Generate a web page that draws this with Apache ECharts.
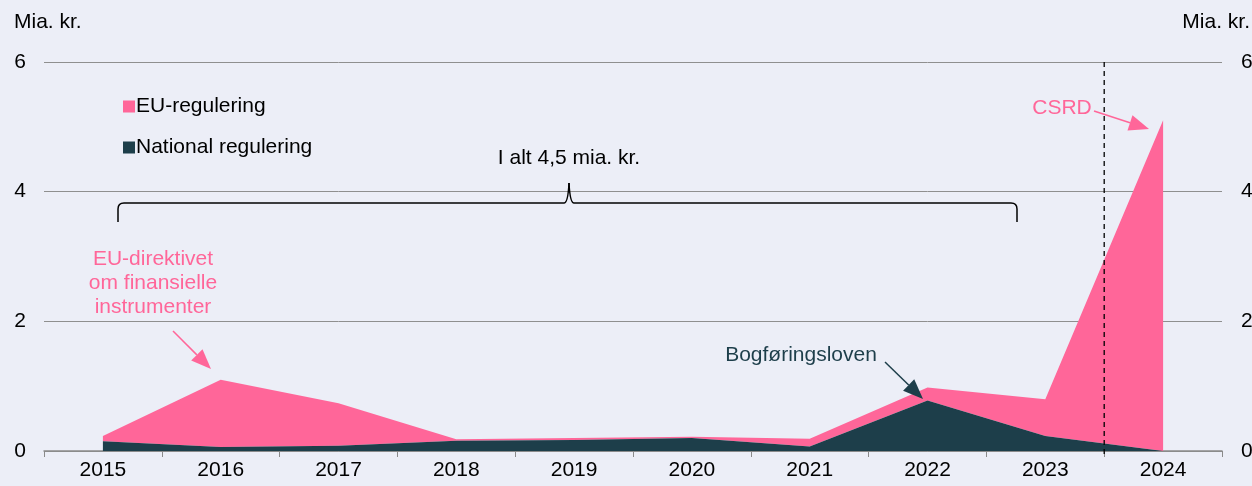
<!DOCTYPE html>
<html>
<head>
<meta charset="utf-8">
<script src="https://cdn.jsdelivr.net/npm/echarts@6/dist/echarts.min.js"></script>
<style>
  html, body { margin: 0; padding: 0; background: #eceef7; }
  #chart { width: 1252px; height: 486px; }
</style>
</head>
<body>
<div id="chart"></div>
<script>
// data (mia. kr.)
var years = ["2015", "2016", "2017", "2018", "2019", "2020", "2021", "2022", "2023", "2024"];
var national = [0.15, 0.06, 0.08, 0.16, 0.17, 0.2, 0.07, 0.78, 0.23, 0.0];
var eu = [0.08, 1.04, 0.655, 0.02, 0.03, 0.02, 0.12, 0.2, 0.57, 5.1];
var yTicks = [0, 2, 4, 6];

var pink = "#ff6699";
var dark = "#1d3e4a";
var font = "Liberation Sans, Arial, sans-serif";
var fs = 21;

var chart = echarts.init(document.getElementById("chart"));

function arrow(x1, y1, x2, y2, color) {
  // line with a filled triangular head at (x2, y2)
  var a = Math.atan2(y2 - y1, x2 - x1);
  var len = 20, half = 8;
  var bx = x2 - len * Math.cos(a), by = y2 - len * Math.sin(a);
  var px = -Math.sin(a) * half, py = Math.cos(a) * half;
  return [
    { type: "line", shape: { x1: x1, y1: y1, x2: bx, y2: by }, style: { stroke: color, lineWidth: 1.5 }, z: 10 },
    { type: "polygon", shape: { points: [[x2, y2], [bx + px, by + py], [bx - px, by - py]] }, style: { fill: color }, z: 10 }
  ];
}

chart.setOption({
  backgroundColor: "#eceef7",
  animation: false,
  textStyle: { fontFamily: font },
  grid: { left: 44, right: 30, top: 62, bottom: 35, containLabel: false, outerBoundsMode: "none" },
  legend: {
    orient: "vertical",
    left: 118,
    top: 91,
    itemWidth: 12,
    itemHeight: 12,
    itemGap: 20,
    icon: "rect",
    textStyle: { fontSize: fs, color: "#000", fontFamily: font, padding: [0, 0, 0, -4] },
    data: ["EU-regulering", "National regulering"]
  },
  xAxis: {
    type: "category",
    data: years,
    boundaryGap: true,
    axisLine: { lineStyle: { color: "#8a8a8a", width: 1.5 } },
    axisTick: { show: true, length: 6, lineStyle: { color: "#8a8a8a" } },
    axisLabel: { fontSize: fs, color: "#000", margin: 9, fontFamily: font },
    splitLine: { show: false }
  },
  yAxis: [
    {
      type: "value", min: yTicks[0], max: yTicks[yTicks.length - 1], interval: 2,
      name: "Mia. kr.", nameGap: 29,
      nameTextStyle: { fontSize: fs, color: "#000", fontFamily: font, align: "left", padding: [0, 0, 0, -30] },
      axisLine: { show: false }, axisTick: { show: false },
      axisLabel: { fontSize: fs, color: "#000", margin: 18, fontFamily: font },
      splitLine: { lineStyle: { color: "#8f8f8f", width: 1 } }
    },
    {
      type: "value", min: yTicks[0], max: yTicks[yTicks.length - 1], interval: 2, position: "right",
      name: "Mia. kr.", nameGap: 29,
      nameTextStyle: { fontSize: fs, color: "#000", fontFamily: font, align: "right", padding: [0, -28, 0, 0] },
      axisLine: { show: false }, axisTick: { show: false },
      axisLabel: { fontSize: fs, color: "#000", margin: 19, fontFamily: font },
      splitLine: { show: false }
    }
  ],
  series: [
    {
      name: "National regulering",
      type: "line",
      stack: "total",
      data: national,
      symbol: "none",
      color: dark,
      lineStyle: { width: 0 },
      areaStyle: { color: dark, opacity: 1 },
      z: 3
    },
    {
      name: "EU-regulering",
      type: "line",
      stack: "total",
      data: eu,
      symbol: "none",
      color: pink,
      lineStyle: { width: 0 },
      areaStyle: { color: pink, opacity: 1 },
      z: 2
    }
  ]
});

// annotations placed after layout
var p23 = chart.convertToPixel({ xAxisIndex: 0 }, 8);
var p24 = chart.convertToPixel({ xAxisIndex: 0 }, 9);
var xSplit = (p23 + p24) / 2;
var yTop = chart.convertToPixel({ yAxisIndex: 0 }, 6);
var yZero = chart.convertToPixel({ yAxisIndex: 0 }, 0);

var braceStyle = { stroke: "#000", lineWidth: 1.5, fill: null };
function bline(x1, y1, x2, y2) {
  return { type: "line", shape: { x1: x1, y1: y1, x2: x2, y2: y2 }, style: braceStyle, z: 10 };
}
function bcurve(x1, y1, cx, cy, x2, y2) {
  return { type: "bezierCurve", shape: { x1: x1, y1: y1, x2: x2, y2: y2, cpx1: cx, cpy1: cy }, style: braceStyle, z: 10 };
}

var g = [
  {
    type: "line",
    shape: { x1: xSplit, y1: yTop, x2: xSplit, y2: yZero + 6 },
    style: { stroke: "#000", lineWidth: 1.3, lineDash: [5, 4] },
    z: 20
  },
  // curly brace
  bline(118, 222, 118, 209),
  bcurve(118, 209, 118, 203, 124, 203),
  bline(124, 203, 564, 203),
  bcurve(564, 203, 568, 203, 569, 183),
  bcurve(569, 183, 570, 203, 574, 203),
  bline(574, 203, 1011, 203),
  bcurve(1011, 203, 1017, 203, 1017, 209),
  bline(1017, 209, 1017, 222),
  {
    type: "text", x: 569, y: 158,
    style: { text: "I alt 4,5 mia. kr.", fill: "#000", font: fs + "px " + font, align: "center", verticalAlign: "middle" }
  },
  {
    type: "text", x: 153, y: 283,
    style: { text: "EU-direktivet\nom finansielle\ninstrumenter", fill: pink, font: fs + "px " + font, align: "center", verticalAlign: "middle", lineHeight: 24 }
  },
  {
    type: "text", x: 801, y: 355,
    style: { text: "Bogføringsloven", fill: dark, font: fs + "px " + font, align: "center", verticalAlign: "middle" }
  },
  {
    type: "text", x: 1062, y: 108,
    style: { text: "CSRD", fill: pink, font: fs + "px " + font, align: "center", verticalAlign: "middle" }
  }
];
g = g.concat(arrow(173, 331, 211, 369, pink));
g = g.concat(arrow(885, 362, 923, 399, dark));
g = g.concat(arrow(1094, 111, 1149, 129, pink));

chart.setOption({ graphic: g });
</script>
</body>
</html>
